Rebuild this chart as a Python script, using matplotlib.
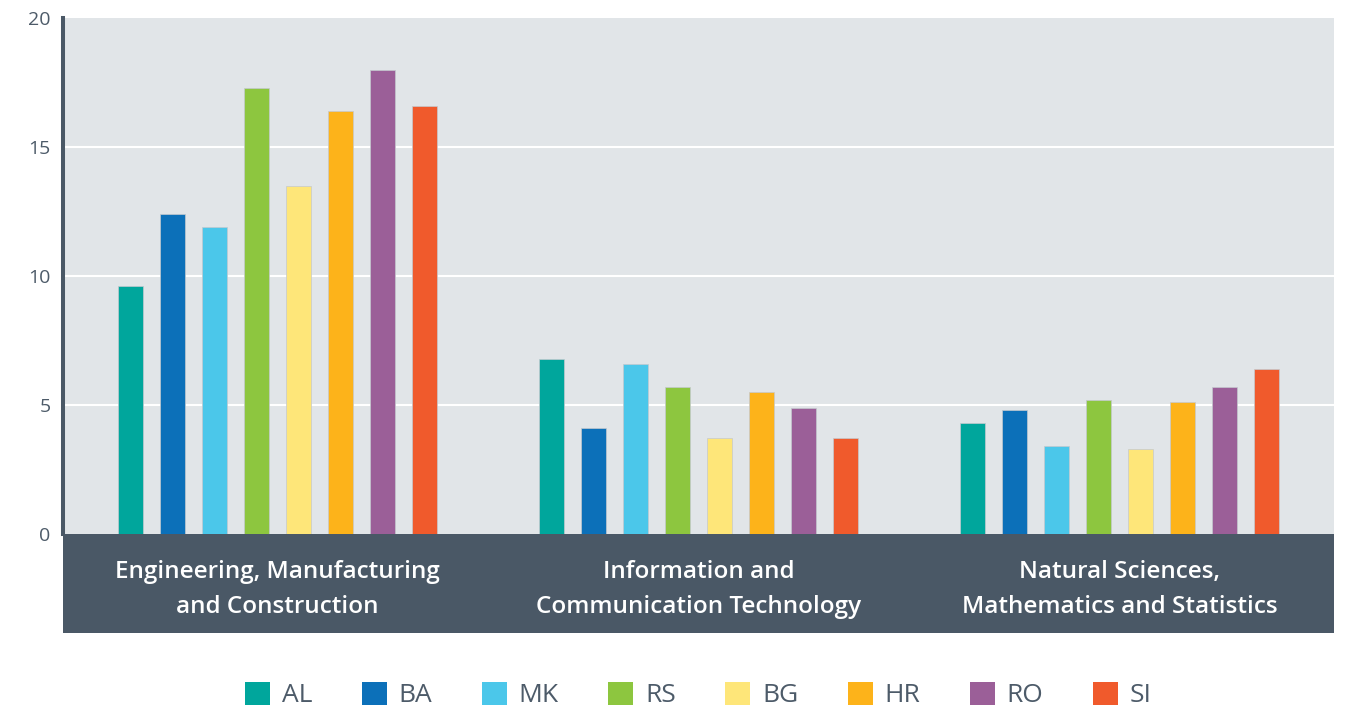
import matplotlib
matplotlib.use('Agg')
import matplotlib.pyplot as plt
import numpy as np
from matplotlib.patches import Patch

# data
categories = ['Engineering, Manufacturing\nand Construction',
              'Information and\nCommunication Technology',
              'Natural Sciences,\nMathematics and Statistics']
countries = ['AL', 'BA', 'MK', 'RS', 'BG', 'HR', 'RO', 'SI']
colors = ['#00a69c', '#0c70b9', '#4bc7ea', '#8dc63f',
          '#fee679', '#fdb31a', '#9b5f98', '#f05a2c']

al = [9.6, 6.8, 4.3]
ba = [12.4, 4.1, 4.8]
mk = [11.9, 6.6, 3.4]
rs = [17.3, 5.7, 5.2]
bg = [13.5, 3.7, 3.3]
hr = [16.4, 5.5, 5.1]
ro = [18.0, 4.9, 5.7]
si = [16.6, 3.7, 6.4]
series = [al, ba, mk, rs, bg, hr, ro, si]

DARK = '#4a5866'
TEXT = '#4d5b69'
plt.rcParams['font.family'] = ['Open Sans', 'DejaVu Sans']

fig = plt.figure(figsize=(13.48, 7.09), dpi=100)
ax = fig.add_axes([63 / 1348, 76 / 709, 1271 / 1348, 615 / 709])
ax.set_facecolor('#e1e5e8')

x = np.arange(len(categories))
step = 0.0998
width = 0.06
for k, (name, vals) in enumerate(zip(countries, series)):
    ax.bar(x + (k - 3.5) * step, vals, width, color=colors[k],
           edgecolor='#c4c9ce', linewidth=0.5, zorder=3)

# gridlines
for g in [5, 10, 15]:
    ax.axhline(g, color='white', lw=1.5, zorder=1)

# dark band with category names
ax.axhspan(-3.84, 0, color=DARK, zorder=4, lw=0)
for i, cat in enumerate(categories):
    ax.text(i, -2.14, cat, ha='center', va='center', color='white',
            fontsize=17.5, fontweight='semibold', linespacing=1.6, zorder=5)

ax.set_xlim(-0.5095, 2.5095)
ax.set_ylim(-3.84, 20)
ax.set_xticks([])
ax.set_yticks([0, 5, 10, 15, 20])
ax.tick_params(axis='y', length=0, pad=9, labelsize=14, labelcolor=TEXT)
for s in ['top', 'right', 'bottom']:
    ax.spines[s].set_visible(False)
ax.spines['left'].set_bounds(0, 20)
ax.spines['left'].set_linewidth(2.9)
ax.spines['left'].set_color(DARK)
ax.spines['left'].set_zorder(6)

handles = [Patch(facecolor=c, edgecolor='none') for c in colors]
leg = fig.legend(handles, countries, loc='center', ncol=8,
                 bbox_to_anchor=(698.5 / 1348, 14 / 709), frameon=False,
                 fontsize=19, handlelength=0.95, handleheight=0.95,
                 handletextpad=0.45, columnspacing=1.87)
for t in leg.get_texts():
    t.set_color(TEXT)

fig.savefig('out.png', dpi=100)
